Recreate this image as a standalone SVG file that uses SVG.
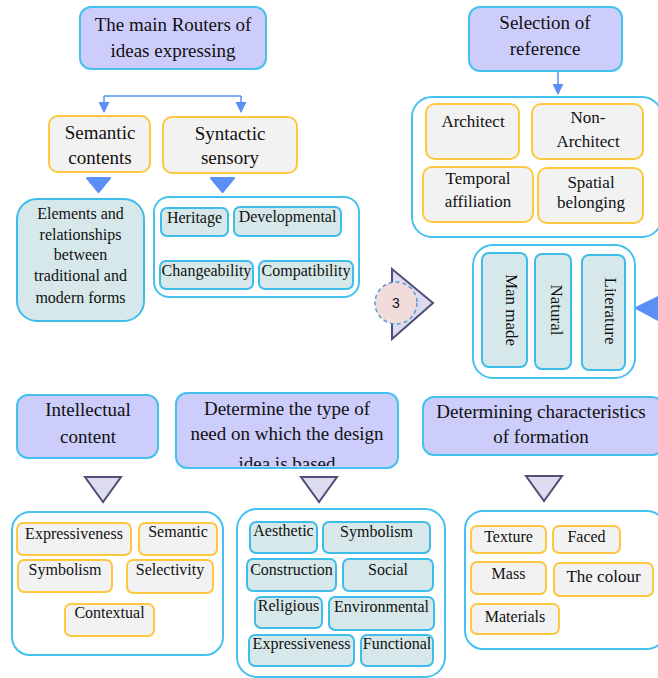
<svg xmlns="http://www.w3.org/2000/svg" width="658" height="678" viewBox="0 0 658 678" font-family="Liberation Serif, serif">
<defs>
<style>
.title{fill:#cdcdfb;stroke:#45c1f0;stroke-width:2}
.gold{fill:#f2f2f2;stroke:#fdc840;stroke-width:2}
.teal{fill:#d6e8e9;stroke:#3fbdea;stroke-width:2}
.cont{fill:#ffffff;stroke:#45c1f0;stroke-width:2}
.tri{fill:#dcdcee;stroke:#4f4f78;stroke-width:2;stroke-linejoin:miter}
.bluefill{fill:#5b8ff5;stroke:#5b8ff5;stroke-width:2;stroke-linejoin:round}
.conn{fill:none;stroke:#5b8ff5;stroke-width:1.5}
text{fill:#111111;text-anchor:middle}
.t19{font-size:19px}
.t17{font-size:17px}
.t16{font-size:16px}
</style>
<marker id="arr" viewBox="0 0 10 10" refX="9" refY="5" markerWidth="11" markerHeight="11" markerUnits="userSpaceOnUse" orient="auto">
<path d="M0,0 L10,5 L0,10 z" fill="#5b8ff5"/>
</marker>
<clipPath id="clipDet"><rect x="177" y="394" width="220" height="72" rx="10"/></clipPath>
</defs>

<g id="connectors">
<path class="conn" d="M104,96 H241"/>
<path class="conn" d="M104,96 V112" marker-end="url(#arr)"/>
<path class="conn" d="M241,96 V112" marker-end="url(#arr)"/>
<path class="conn" d="M558,71 V94" marker-end="url(#arr)"/>
<path class="conn" d="M643,118 H658" stroke="#45c1f0"/>
<polygon class="bluefill" points="87,178 110,178 98.5,192"/>
<polygon class="bluefill" points="211,178 234,178 222.5,192"/>
<polygon class="bluefill" points="636,308 660,296 660,321"/>
<polygon class="tri" points="85,477 121,477 103,502"/>
<polygon class="tri" points="301,477 337,477 319,502"/>
<polygon class="tri" points="526,476 562,476 544,501"/>
</g>

<g id="main-routers">
<rect class="title" x="80" y="7" width="186" height="62" rx="11"/>
<text class="t19" x="173" y="31">The main Routers of</text>
<text class="t19" x="173" y="57">ideas expressing</text>
</g>

<g id="semantic-contents">
<rect class="gold" x="49" y="116" width="101" height="56" rx="9"/>
<text class="t19" x="100" y="139">Semantic</text>
<text class="t19" x="100" y="164">contents</text>
</g>

<g id="syntactic-sensory">
<rect class="gold" x="163" y="117" width="134" height="56" rx="9"/>
<text class="t19" x="230" y="140">Syntactic</text>
<text class="t19" x="230" y="164">sensory</text>
</g>

<g id="elements">
<rect class="teal" x="17" y="199" width="127" height="122" rx="20"/>
<text class="t16" x="80.5" y="219">Elements and</text>
<text class="t16" x="80.5" y="240">relationships</text>
<text class="t16" x="80.5" y="260">between</text>
<text class="t16" x="80.5" y="281">traditional and</text>
<text class="t16" x="80.5" y="303">modern forms</text>
</g>

<g id="syntactic-group">
<rect class="cont" x="154" y="197" width="205" height="100" rx="15"/>
<g id="heritage"><rect class="teal" x="161" y="208" width="67" height="28" rx="6"/><text class="t16" x="194.5" y="223">Heritage</text></g>
<g id="developmental"><rect class="teal" x="234" y="207" width="107" height="29" rx="6"/><text class="t16" x="287.5" y="222">Developmental</text></g>
<g id="changeability"><rect class="teal" x="160" y="261" width="93" height="28" rx="6"/><text class="t16" x="206.5" y="276">Changeability</text></g>
<g id="compatibility"><rect class="teal" x="259" y="261" width="94" height="28" rx="6"/><text class="t16" x="306" y="276">Compatibility</text></g>
</g>

<g id="selection-of-reference">
<rect class="title" x="469" y="7" width="153" height="64" rx="11"/>
<text class="t19" x="545" y="29">Selection of</text>
<text class="t19" x="545" y="55">reference</text>
</g>

<g id="reference-group">
<rect class="cont" x="412" y="97" width="250" height="140" rx="20"/>
<g id="architect"><rect class="gold" x="426" y="104" width="93" height="55" rx="9"/><text class="t17" x="473" y="127">Architect</text></g>
<g id="non-architect"><rect class="gold" x="532" y="104" width="111" height="55" rx="9"/><text class="t17" x="588" y="123">Non-</text><text class="t17" x="588" y="147">Architect</text></g>
<g id="temporal"><rect class="gold" x="423" y="167" width="110" height="55" rx="9"/><text class="t17" x="478" y="184">Temporal</text><text class="t17" x="478" y="207">affiliation</text></g>
<g id="spatial"><rect class="gold" x="538" y="168" width="105" height="55" rx="9"/><text class="t17" x="591" y="188">Spatial</text><text class="t17" x="591" y="208">belonging</text></g>
</g>

<g id="marker-3">
<polygon class="tri" points="392,269 433,303 392,339"/>
<circle cx="396" cy="303" r="21" fill="#f2dcdb" stroke="#5b9bd5" stroke-width="1.5" stroke-dasharray="4,3"/>
<text x="396" y="308" font-family="Liberation Sans, sans-serif" font-size="14">3</text>
</g>

<g id="source-group">
<rect class="cont" x="473" y="245" width="162" height="133" rx="20"/>
<g id="man-made"><rect class="teal" x="482" y="253" width="45" height="114" rx="7"/><text class="t17" transform="translate(512,310) rotate(90)" dy="0.35em">Man made</text></g>
<g id="natural"><rect class="teal" x="535" y="254" width="36" height="115" rx="7"/><text class="t17" transform="translate(557,310) rotate(90)" dy="0.35em">Natural</text></g>
<g id="literature"><rect class="teal" x="582" y="255" width="43" height="115" rx="7"/><text class="t17" transform="translate(611,311) rotate(90)" dy="0.35em">Literature</text></g>
</g>

<g id="intellectual-content">
<rect class="title" x="17" y="395" width="141" height="63" rx="11"/>
<text class="t19" x="88" y="416">Intellectual</text>
<text class="t19" x="88" y="443">content</text>
</g>

<g id="determine-need">
<rect class="title" x="176" y="393" width="222" height="75" rx="11"/>
<g clip-path="url(#clipDet)">
<text class="t19" x="287" y="415">Determine the type of</text>
<text class="t19" x="287" y="440">need on which the design</text>
<text class="t19" x="287" y="470">idea is based</text>
</g>
</g>

<g id="determining-characteristics">
<rect class="title" x="423" y="397" width="240" height="58" rx="11"/>
<text class="t19" x="541" y="418">Determining characteristics</text>
<text class="t19" x="541" y="443">of formation</text>
</g>

<g id="intellectual-group">
<rect class="cont" x="12" y="512" width="211" height="143" rx="18"/>
<g id="i-expressiveness"><rect class="gold" x="17" y="523" width="114" height="32" rx="6"/><text class="t16" x="74" y="539">Expressiveness</text></g>
<g id="i-semantic"><rect class="gold" x="139" y="523" width="78" height="32" rx="6"/><text class="t16" x="178" y="537">Semantic</text></g>
<g id="i-symbolism"><rect class="gold" x="18" y="560" width="94" height="32" rx="6"/><text class="t16" x="65" y="575">Symbolism</text></g>
<g id="i-selectivity"><rect class="gold" x="127" y="560" width="86" height="33" rx="6"/><text class="t16" x="170" y="575">Selectivity</text></g>
<g id="i-contextual"><rect class="gold" x="65" y="604" width="89" height="32" rx="6"/><text class="t16" x="109.5" y="618">Contextual</text></g>
</g>

<g id="need-group">
<rect class="cont" x="237" y="509" width="208" height="168" rx="20"/>
<g id="n-aesthetic"><rect class="teal" x="250" y="522" width="67" height="31" rx="6"/><text class="t16" x="283.5" y="536">Aesthetic</text></g>
<g id="n-symbolism"><rect class="teal" x="323" y="522" width="107" height="31" rx="6"/><text class="t16" x="376.5" y="537">Symbolism</text></g>
<g id="n-construction"><rect class="teal" x="247" y="559" width="89" height="32" rx="6"/><text class="t16" x="291.5" y="575">Construction</text></g>
<g id="n-social"><rect class="teal" x="343" y="559" width="90" height="32" rx="6"/><text class="t16" x="388" y="575">Social</text></g>
<g id="n-religious"><rect class="teal" x="255" y="597" width="67" height="31" rx="6"/><text class="t16" x="288.5" y="611">Religious</text></g>
<g id="n-environmental"><rect class="teal" x="329" y="597" width="105" height="33" rx="6"/><text class="t16" x="381.5" y="612">Environmental</text></g>
<g id="n-expressiveness"><rect class="teal" x="249" y="635" width="105" height="31" rx="6"/><text class="t16" x="301.5" y="649">Expressiveness</text></g>
<g id="n-functional"><rect class="teal" x="361" y="635" width="72" height="31" rx="6"/><text class="t16" x="397" y="649">Functional</text></g>
</g>

<g id="formation-group">
<rect class="cont" x="465" y="511" width="200" height="138" rx="18"/>
<g id="f-texture"><rect class="gold" x="471" y="526" width="75" height="27" rx="6"/><text class="t16" x="508.5" y="542">Texture</text></g>
<g id="f-faced"><rect class="gold" x="553" y="526" width="67" height="27" rx="6"/><text class="t16" x="586.5" y="542">Faced</text></g>
<g id="f-mass"><rect class="gold" x="471" y="562" width="75" height="32" rx="6"/><text class="t16" x="508.5" y="579">Mass</text></g>
<g id="f-colour"><rect class="gold" x="554" y="563" width="99" height="33" rx="6"/><text class="t17" x="603.5" y="582">The colour</text></g>
<g id="f-materials"><rect class="gold" x="471" y="604" width="88" height="30" rx="6"/><text class="t16" x="515" y="622">Materials</text></g>
</g>
</svg>
